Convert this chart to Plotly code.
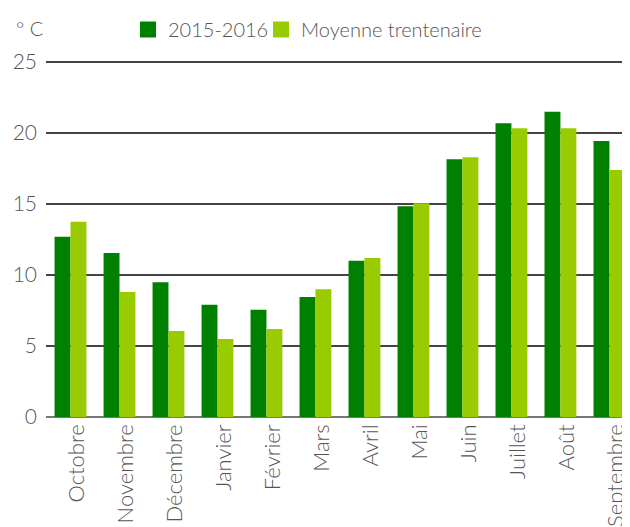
import plotly.graph_objects as go

months = ["Octobre", "Novembre", "Décembre", "Janvier", "Février", "Mars",
          "Avril", "Mai", "Juin", "Juillet", "Août", "Septembre"]
temp_2015_2016 = [12.7, 11.55, 9.5, 7.9, 7.55, 8.45, 11.0, 14.85, 18.15, 20.7, 21.5, 19.45]
temp_moyenne = [13.75, 8.8, 6.05, 5.5, 6.2, 9.0, 11.2, 15.05, 18.3, 20.35, 20.35, 17.4]
series_names = ["2015-2016", "Moyenne trentenaire"]
series_colors = ["#008000", "#99cc00"]
y_ticks = [0, 5, 10, 15, 20, 25]

FONT = "Lato"
GREY = "#555555"

# The page adds an 8px body margin, so the figure is sized/offset accordingly.
W, H = 622, 519

fig = go.Figure()
fig.add_trace(go.Bar(x=months, y=temp_2015_2016, name=series_names[0], showlegend=False,
                     marker=dict(color=series_colors[0], line=dict(width=0))))
fig.add_trace(go.Bar(x=months, y=temp_moyenne, name=series_names[1], showlegend=False,
                     marker=dict(color=series_colors[1], line=dict(width=0))))

# legend entries (larger square swatches, each positioned on its own)
for i, (nm, col) in enumerate(zip(series_names, series_colors)):
    fig.add_trace(go.Scatter(x=[None], y=[None], mode="markers", name=nm,
                             legend="legend" if i == 0 else "legend2",
                             marker=dict(symbol="square", size=16, color=col)))

leg_common = dict(orientation="h", xref="container", yref="container",
                  yanchor="top", xanchor="left",
                  font=dict(family=FONT, size=20, color=GREY, weight=300),
                  itemwidth=30, itemsizing="trace", bgcolor="rgba(0,0,0,0)")

fig.update_layout(
    width=W, height=H,
    margin=dict(l=38, r=0, t=52, b=110, autoexpand=False),
    plot_bgcolor="white", paper_bgcolor="white",
    barmode="group", bargap=0.35, bargroupgap=0,
    font=dict(family=FONT, color=GREY, size=21, weight=300),
    legend=dict(x=120 / W, y=1 - 2 / H, **leg_common),
    legend2=dict(x=253 / W, y=1 - 2 / H, **leg_common),
    showlegend=True,
)
fig.update_xaxes(
    type="category", range=[-0.5, 11.42], tickangle=-90,
    showgrid=False, showline=False, ticks="", automargin=False,
    ticklabelshift=6, ticklabelstandoff=2,
    tickfont=dict(family=FONT, size=22, color=GREY, weight=300),
)
fig.update_yaxes(
    range=[0, 25.15], tickvals=y_ticks, showgrid=True, gridcolor="#444444",
    gridwidth=1.5, zeroline=True, zerolinecolor="#777777", zerolinewidth=2,
    ticks="", automargin=False, ticklabelstandoff=8,
    tickfont=dict(family=FONT, size=21, color=GREY, weight=300),
)
fig.add_annotation(text="° C", xref="paper", yref="paper", x=-0.0548, y=1.0896,
                   xanchor="left", yanchor="middle", showarrow=False,
                   font=dict(family=FONT, size=20, color=GREY, weight=300))

fig.write_html("out.html")
